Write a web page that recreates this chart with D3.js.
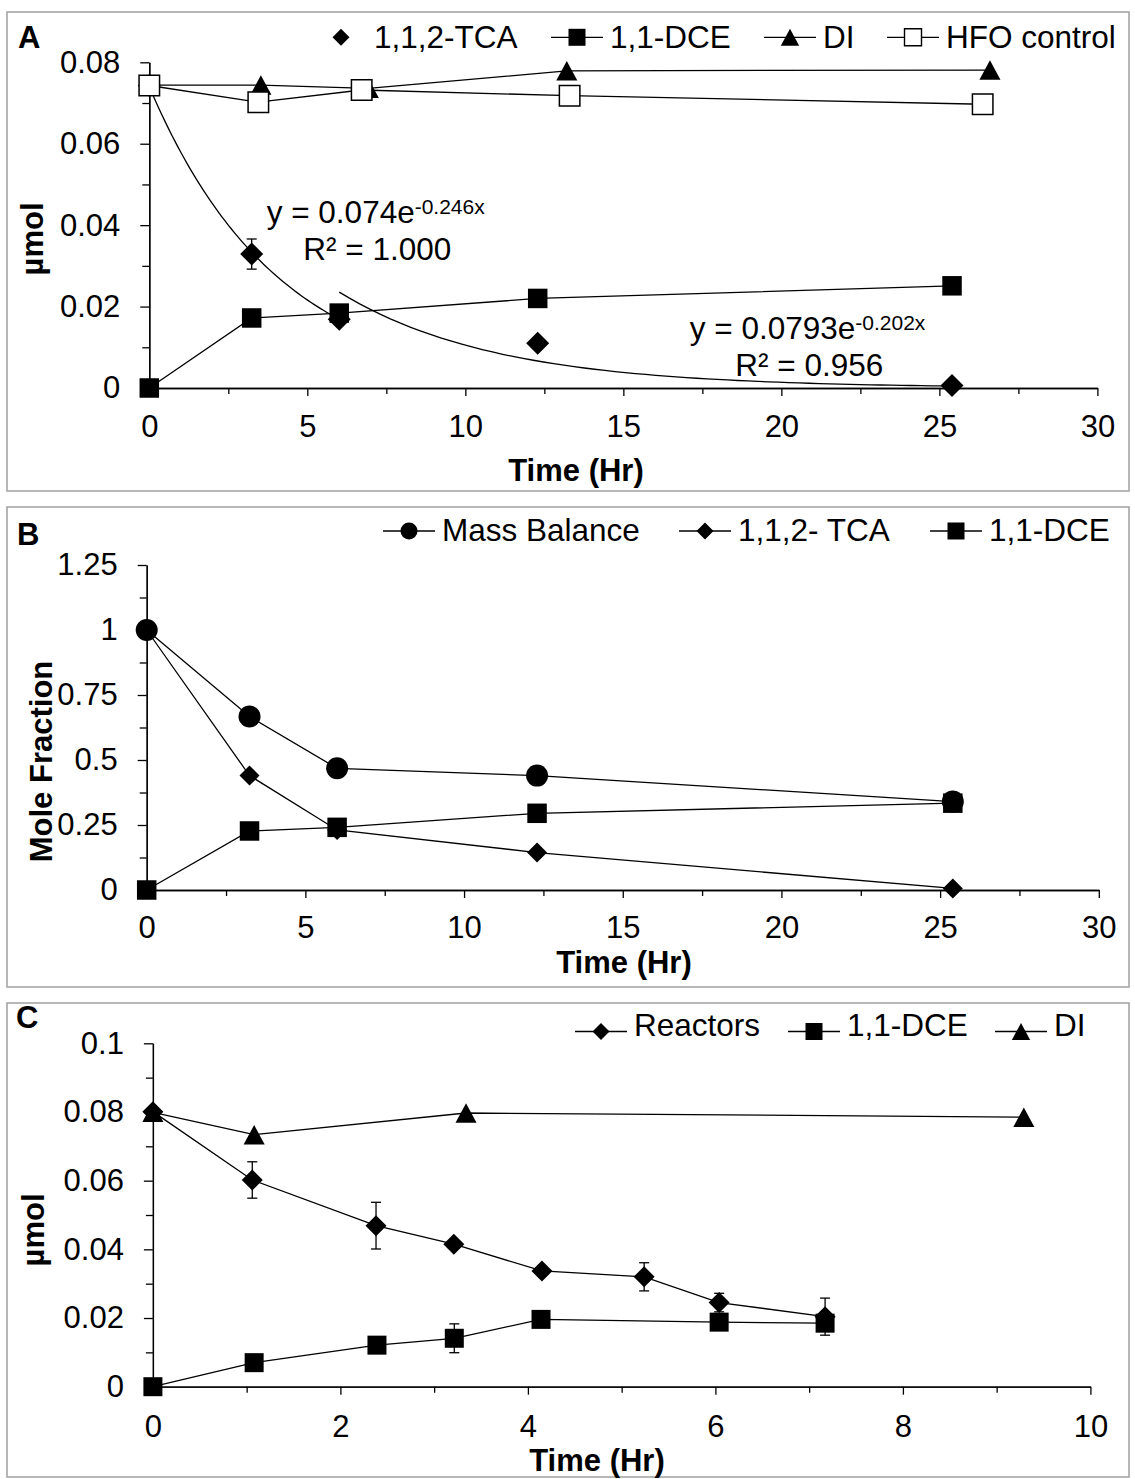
<!DOCTYPE html>
<html>
<head>
<meta charset="utf-8">
<script src="https://cdn.jsdelivr.net/npm/d3@7"></script>
<style>
body { margin: 0; background: #fff; }
svg { display: block; font-family: "Liberation Sans", Arial, sans-serif; }
.axis path, .axis line { stroke: #000; stroke-width: 1.3; }
.axis text { font-size: 31px; fill: #000; font-family: "Liberation Sans", Arial, sans-serif; }
.title { font-size: 31px; font-weight: bold; }
.label { font-size: 31.5px; }
</style>
</head>
<body>
<svg id="fig" width="1135" height="1479"></svg>
<script>
// ---- Panel A : umol vs time ----
var timeA = [0, 3.24, 6.01, 12.29, 25.4];
var tcaA = [0.0743, 0.0329, 0.0169, 0.011, 0.0006];
var tcaErrA = [0, 0.0037, 0, 0, 0];
var dceA = [0, 0.0172, 0.0184, 0.022, 0.0251];
var timeDiA = [0, 3.53, 6.93, 13.21, 26.6];
var diA = [0.0744, 0.0744, 0.0736, 0.0779, 0.0781];
var timeHfoA = [0, 3.45, 6.72, 13.3, 26.37];
var hfoA = [0.0743, 0.0702, 0.0732, 0.0718, 0.0697];
// exponential trendlines shown on panel A
var fitCoefA = [0.074, 0.0793];
var fitRateA = [-0.246, -0.202];
var fitFromA = [0, 6.01];
var fitToA = [6.01, 25.4];
var fitEqA = ["y = 0.074e", "y = 0.0793e"];
var fitExpA = ["-0.246x", "-0.202x"];
var fitR2A = ["R\u00b2 = 1.000", "R\u00b2 = 0.956"];

// ---- Panel B : mole fraction ----
var timeB = [0, 3.24, 6.0, 12.3, 25.4];
var massB = [1, 0.667, 0.468, 0.44, 0.34];
var tcaB = [1, 0.44, 0.231, 0.144, 0.006];
var dceB = [0, 0.227, 0.241, 0.295, 0.334];

// ---- Panel C : reactors ----
var timeC = [0, 1.06, 2.38, 3.21, 4.15, 5.24, 6.04, 7.17];
var reactC = [0.0801, 0.0602, 0.0469, 0.0415, 0.0337, 0.032, 0.0245, 0.0204];
var reactErrC = [0, 0.0053, 0.0068, 0, 0, 0.0041, 0.0027, 0.0054];
var timeDceC = [0, 1.08, 2.39, 3.215, 4.14, 6.04, 7.17];
var dceC = [0, 0.007, 0.0121, 0.0141, 0.0196, 0.0188, 0.0185];
var dceErrC = [0, 0, 0, 0.0042, 0, 0, 0];
var timeDiC = [0, 1.08, 3.34, 9.29];
var diC = [0.0799, 0.0734, 0.0797, 0.0785];

// ---- ticks ----
var xTicksAB = [0, 5, 10, 15, 20, 25, 30];
var yTicksA = [0, 0.02, 0.04, 0.06, 0.08];
var yLabelsA = ["0", "0.02", "0.04", "0.06", "0.08"];
var yTicksB = [0, 0.25, 0.5, 0.75, 1, 1.25];
var yLabelsB = ["0", "0.25", "0.5", "0.75", "1", "1.25"];
var xTicksC = [0, 2, 4, 6, 8, 10];
var yTicksC = [0, 0.02, 0.04, 0.06, 0.08, 0.1];
var yLabelsC = ["0", "0.02", "0.04", "0.06", "0.08", "0.1"];

var svg = d3.select("#fig");

function zip(t, v, e) {
	return t.map(function (d, i) {
		return {t: d, v: v[i], e: e ? e[i] : 0};
	});
}

function markerPath(shape, size) {
	var h = size / 2;
	if (shape === "circle") return d3.symbol(d3.symbolCircle, Math.PI * h * h)();
	if (shape === "square" || shape === "open") return d3.symbol(d3.symbolSquare, size * size)();
	if (shape === "diamond") return "M0," + (-h) + "L" + h + ",0L0," + h + "L" + (-h) + ",0Z";
	// triangle, centred on its box
	return "M0," + (-h) + "L" + (h * 1.08) + "," + h + "L" + (-h * 1.08) + "," + h + "Z";
}

function midpoints(ticks) {
	var m = [];
	for (var i = 1; i < ticks.length; i++) m.push((ticks[i - 1] + ticks[i]) / 2);
	return m;
}

function drawPanel(p) {
	var g = svg.append("g");

	g.append("rect")
		.attr("x", p.box[0]).attr("y", p.box[1])
		.attr("width", p.box[2]).attr("height", p.box[3])
		.attr("fill", "none").attr("stroke", "#a6a6a6").attr("stroke-width", 1.6);

	var x = d3.scaleLinear().domain([p.xTicks[0], p.xTicks[p.xTicks.length - 1]]).range([p.left, p.right]);
	var y = d3.scaleLinear().domain([p.yTicks[0], p.yTicks[p.yTicks.length - 1]]).range([p.bottom, p.top]);

	// minor ticks
	g.append("g").attr("class", "axis")
		.attr("transform", "translate(0," + p.bottom + ")")
		.call(d3.axisBottom(x).tickValues(midpoints(p.xTicks)).tickSize(6).tickSizeOuter(0).tickFormat(""));
	g.append("g").attr("class", "axis")
		.attr("transform", "translate(" + p.left + ",0)")
		.call(d3.axisLeft(y).tickValues(midpoints(p.yTicks)).tickSize(7).tickSizeOuter(0).tickFormat(""));

	// major axes
	g.append("g").attr("class", "axis")
		.attr("transform", "translate(0," + p.bottom + ")")
		.call(d3.axisBottom(x).tickValues(p.xTicks).tickSize(8).tickSizeOuter(0).tickPadding(p.xPad)
			.tickFormat(function (d) { return String(d); }));
	g.append("g").attr("class", "axis")
		.attr("transform", "translate(" + p.left + ",0)")
		.call(d3.axisLeft(y).tickValues(p.yTicks).tickSize(9).tickSizeOuter(0).tickPadding(20)
			.tickFormat(function (d, i) { return p.yLabels[i]; }));

	g.selectAll(".axis .domain").attr("stroke", "#000");

	// trendlines (panel A)
	(p.fits || []).forEach(function (f) {
		var pts = d3.range(0, 61).map(function (k) {
			var t = f.from + (f.to - f.from) * k / 60;
			return {t: t, v: f.a * Math.exp(f.b * t)};
		});
		g.append("path")
			.attr("d", d3.line().x(function (d) { return x(d.t); }).y(function (d) { return y(d.v); })(pts))
			.attr("fill", "none").attr("stroke", "#000").attr("stroke-width", 1.3);
	});

	var lineFunc = d3.line()
		.x(function (d) { return x(d.t); })
		.y(function (d) { return y(d.v); });

	p.series.forEach(function (s) {
		if (s.line) {
			g.append("path")
				.attr("d", lineFunc(s.data))
				.attr("fill", "none").attr("stroke", "#000").attr("stroke-width", 1.3);
		}
		var eb = s.data.filter(function (d) { return d.e > 0; });
		var bars = g.selectAll(null).data(eb).enter().append("g");
		bars.append("line")
			.attr("x1", function (d) { return x(d.t); }).attr("x2", function (d) { return x(d.t); })
			.attr("y1", function (d) { return y(d.v + d.e); }).attr("y2", function (d) { return y(d.v - d.e); })
			.attr("stroke", "#000").attr("stroke-width", 1.3);
		[1, -1].forEach(function (sg) {
			bars.append("line")
				.attr("x1", function (d) { return x(d.t) - 5; }).attr("x2", function (d) { return x(d.t) + 5; })
				.attr("y1", function (d) { return y(d.v + sg * d.e); }).attr("y2", function (d) { return y(d.v + sg * d.e); })
				.attr("stroke", "#000").attr("stroke-width", 1.3);
		});
		g.selectAll(null).data(s.data).enter().append("path")
			.attr("transform", function (d) { return "translate(" + x(d.t) + "," + y(d.v) + ")"; })
			.attr("d", markerPath(s.shape, s.size))
			.attr("fill", s.shape === "open" ? "#fff" : "#000")
			.attr("stroke", "#000").attr("stroke-width", s.shape === "open" ? 1.5 : 0);
	});

	// fit equations
	(p.fits || []).forEach(function (f) {
		var t = g.append("text").attr("class", "label").attr("x", f.eqX).attr("y", f.eqY);
		t.append("tspan").text(f.eq);
		t.append("tspan").attr("dy", -9).attr("font-size", 21).text(f.exp);
		g.append("text").attr("class", "label").attr("x", f.r2X).attr("y", f.r2Y).text(f.r2);
	});

	// legend
	p.legend.forEach(function (l) {
		if (l.line) {
			g.append("line")
				.attr("x1", l.x).attr("x2", l.x + 52)
				.attr("y1", p.legendY).attr("y2", p.legendY)
				.attr("stroke", "#000").attr("stroke-width", 1.3);
		}
		g.append("path")
			.attr("transform", "translate(" + (l.x + 26) + "," + p.legendY + ")")
			.attr("d", markerPath(l.shape, 17))
			.attr("fill", l.shape === "open" ? "#fff" : "#000")
			.attr("stroke", "#000").attr("stroke-width", l.shape === "open" ? 1.4 : 0);
		g.append("text").attr("class", "label")
			.attr("x", l.x + 59).attr("y", p.legendText)
			.text(l.text);
	});

	// panel letter and axis titles
	g.append("text").attr("class", "title").attr("x", p.letter[0]).attr("y", p.letter[1]).text(p.letter[2]);
	g.append("text").attr("class", "title").attr("text-anchor", "middle")
		.attr("x", p.xTitle[0]).attr("y", p.xTitle[1]).text("Time (Hr)");
	g.append("text").attr("class", "title").attr("text-anchor", "middle")
		.attr("transform", "translate(" + p.yTitle[0] + "," + p.yTitle[1] + ") rotate(-90)")
		.text(p.yTitle[2]);
}

drawPanel({
	box: [7, 12, 1122, 479],
	left: 149.3, right: 1097.4, top: 62.3, bottom: 388,
	xTicks: xTicksAB, yTicks: yTicksA, yLabels: yLabelsA, xPad: 19,
	letter: [18, 48, "A"], xTitle: [576, 481], yTitle: [43, 239, "\u00b5mol"],
	fits: [0, 1].map(function (i) {
		return {
			a: fitCoefA[i], b: fitRateA[i], from: fitFromA[i], to: fitToA[i],
			eq: fitEqA[i], exp: fitExpA[i], r2: fitR2A[i],
			eqX: [266.7, 689.8][i], eqY: [222.7, 339][i],
			r2X: [303.3, 735.3][i], r2Y: [260, 376][i]
		};
	}),
	series: [
		{data: zip(timeA, tcaA, tcaErrA), shape: "diamond", size: 23, line: false},
		{data: zip(timeA, dceA), shape: "square", size: 19.5, line: true},
		{data: zip(timeDiA, diA), shape: "triangle", size: 19.5, line: true},
		{data: zip(timeHfoA, hfoA), shape: "open", size: 20.5, line: true}
	],
	legendY: 37.3, legendText: 48.3,
	legend: [
		{x: 315, shape: "diamond", line: false, text: "1,1,2-TCA"},
		{x: 551, shape: "square", line: true, text: "1,1-DCE"},
		{x: 764, shape: "triangle", line: true, text: "DI"},
		{x: 887, shape: "open", line: true, text: "HFO control"}
	]
});

drawPanel({
	box: [7, 507, 1122, 480],
	left: 146.7, right: 1098.8, top: 565, bottom: 890,
	xTicks: xTicksAB, yTicks: yTicksB, yLabels: yLabelsB, xPad: 18,
	letter: [17, 545, "B"], xTitle: [624, 973], yTitle: [52, 761.5, "Mole Fraction"],
	series: [
		{data: zip(timeB, massB), shape: "circle", size: 22, line: true},
		{data: zip(timeB, tcaB), shape: "diamond", size: 20, line: true},
		{data: zip(timeB, dceB), shape: "square", size: 19.5, line: true}
	],
	legendY: 531, legendText: 540.5,
	legend: [
		{x: 383, shape: "circle", line: true, text: "Mass Balance"},
		{x: 679, shape: "diamond", line: true, text: "1,1,2- TCA"},
		{x: 930, shape: "square", line: true, text: "1,1-DCE"}
	]
});

drawPanel({
	box: [7, 1003, 1122, 474],
	left: 152.9, right: 1090.4, top: 1043.3, bottom: 1386.7,
	xTicks: xTicksC, yTicks: yTicksC, yLabels: yLabelsC, xPad: 20,
	letter: [16, 1028, "C"], xTitle: [597, 1471], yTitle: [44, 1230, "\u00b5mol"],
	series: [
		{data: zip(timeC, reactC, reactErrC), shape: "diamond", size: 21, line: true},
		{data: zip(timeDceC, dceC, dceErrC), shape: "square", size: 19, line: true},
		{data: zip(timeDiC, diC), shape: "triangle", size: 19.5, line: true}
	],
	legendY: 1031.5, legendText: 1036,
	legend: [
		{x: 575, shape: "diamond", line: true, text: "Reactors"},
		{x: 788, shape: "square", line: true, text: "1,1-DCE"},
		{x: 995, shape: "triangle", line: true, text: "DI"}
	]
});
</script>
</body>
</html>
